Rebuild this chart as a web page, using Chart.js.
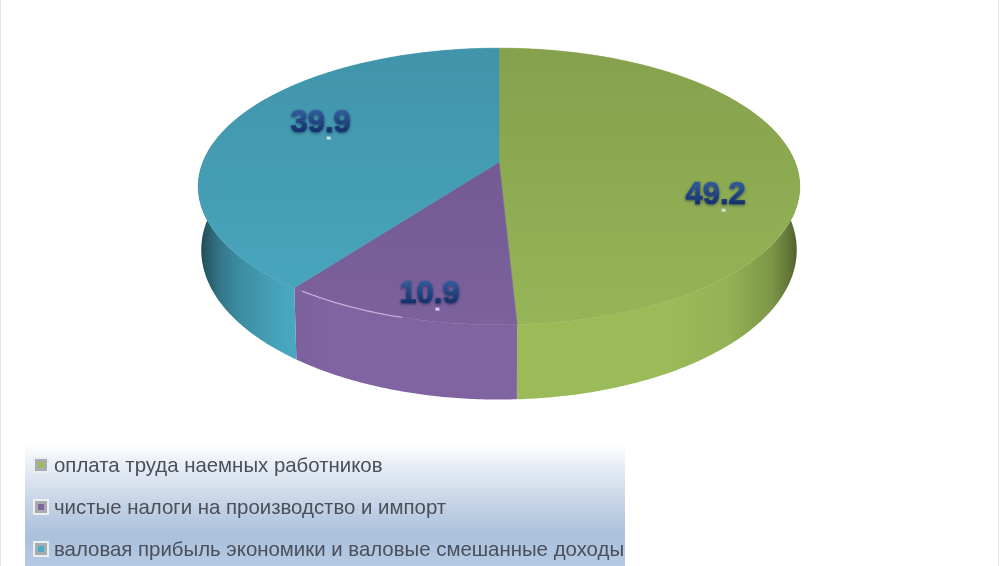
<!DOCTYPE html>
<html lang="ru">
<head>
<meta charset="utf-8">
<style>
html,body{margin:0;padding:0;background:#fff;width:1000px;height:566px;overflow:hidden}
canvas{position:absolute;left:0;top:0;display:block;filter:blur(.45px)}
</style>
<script src="https://cdn.jsdelivr.net/npm/chart.js@4"></script>
</head>
<body>
<canvas id="c" width="1000" height="566"></canvas>
<script>
const categories = [
  "оплата труда наемных работников",
  "чистые налоги на производство и импорт",
  "валовая прибыль экономики и валовые смешанные доходы"
];
const shares = [49.2, 10.9, 39.9];
const shareText = ["49.2", "10.9", "39.9"];
const sliceColors = ["#9bbb59", "#8064a2", "#4bacc6"];

function shade(hex, f) {
  const n = parseInt(hex.slice(1), 16);
  const ch = [n >> 16 & 255, n >> 8 & 255, n & 255].map(v => Math.round(Math.min(255, v * f)));
  return `rgb(${ch[0]},${ch[1]},${ch[2]})`;
}

/* perspective view of the pie: apex, half axes, foreshortening, thickness */
const view = {cx: 499, cy: 162, a: 296, b: 134, k: 0.177, depth: 61.5, inset: .99};
function project(angle, r) {
  const x = r * Math.cos(angle), y = r * Math.sin(angle), w = 1 - view.k * y;
  return {x: view.cx + view.a * x / w, y: view.cy + view.b * y / w, d: view.depth / w};
}
function arcSamples(start, end) {
  const n = Math.max(2, Math.ceil((end - start) / 0.01)), out = [];
  for (let i = 0; i <= n; i++) out.push(project(start + (end - start) * i / n, 1));
  return out;
}

const pie3d = {
  id: "pie3d",
  beforeDatasetDraw(chart, args) {
    const ctx = chart.ctx, arcs = args.meta.data;
    ctx.save();
    /* side wall */
    arcs.forEach((arc, i) => {
      const col = sliceColors[i];
      const g = ctx.createLinearGradient(198, 0, 802, 0);
      [[0, .38], [.012, .5], [.035, .68], [.07, .82], [.14, .96], [.22, 1], [.78, 1], [.88, .95], [.95, .8], [.98, .62], [1, .42]]
        .forEach(([p, f]) => g.addColorStop(p, shade(col, f)));
      const pts = arcSamples(arc.startAngle, arc.endAngle);
      ctx.beginPath();
      pts.forEach((p, j) => j ? ctx.lineTo(p.x, p.y) : ctx.moveTo(p.x, p.y));
      pts.slice().reverse().forEach(p => ctx.lineTo(view.cx + (p.x - view.cx) * view.inset, p.y + p.d));
      ctx.closePath();
      ctx.fillStyle = g;
      ctx.fill();
    });
    /* top face */
    arcs.forEach((arc, i) => {
      const col = sliceColors[i];
      const g = ctx.createLinearGradient(0, 48, 0, 325);
      g.addColorStop(0, shade(col, .86));
      g.addColorStop(1, shade(col, .97));
      const pts = arcSamples(arc.startAngle, arc.endAngle);
      ctx.beginPath();
      ctx.moveTo(view.cx, view.cy);
      pts.forEach(p => ctx.lineTo(p.x, p.y));
      ctx.closePath();
      ctx.fillStyle = g;
      ctx.strokeStyle = g;
      ctx.lineWidth = .6;
      ctx.fill();
      ctx.stroke();
    });
    /* bright glint on the purple rim */
    const purple = arcs[1];
    const gl = arcSamples(purple.endAngle - .36, purple.endAngle - .03);
    ctx.beginPath();
    gl.forEach((p, j) => j ? ctx.lineTo(p.x, p.y) : ctx.moveTo(p.x, p.y));
    ctx.strokeStyle = "rgba(222,200,240,.7)";
    ctx.lineWidth = 1.3;
    ctx.stroke();
    ctx.restore();
    return false;
  },
  afterDatasetsDraw(chart) {
    const ctx = chart.ctx, arcs = chart.getDatasetMeta(0).data;
    const nudges = [[16, 36], [-4, 34], [6, -11]];
    ctx.save();
    ctx.font = "bold 31px 'Liberation Sans'";
    ctx.textAlign = "center";
    ctx.textBaseline = "middle";
    arcs.forEach((arc, i) => {
      const p = project((arc.startAngle + arc.endAngle) / 2, .68);
      const x = p.x + nudges[i][0], y = p.y + nudges[i][1];
      ctx.shadowColor = "rgba(15,30,75,.6)";
      ctx.shadowBlur = 3;
      ctx.shadowOffsetY = 1;
      const g = ctx.createLinearGradient(0, y - 12, 0, y + 12);
      g.addColorStop(0, "#33609f");
      g.addColorStop(1, "#0f2a66");
      ctx.fillStyle = g;
      ctx.strokeStyle = g;
      ctx.lineWidth = .7;
      ctx.fillText(shareText[i], x, y);
      ctx.strokeText(shareText[i], x, y);
      ctx.shadowColor = "transparent";
      ctx.fillStyle = "rgba(225,235,245,.85)";
      ctx.fillRect(x + 6, y + 13, 4, 3);
    });
    ctx.restore();
  }
};

const legendBox = {
  id: "legendBox",
  afterDraw(chart) {
    const ctx = chart.ctx;
    ctx.save();
    const g = ctx.createLinearGradient(0, 443, 0, 566);
    g.addColorStop(0, "#ffffff");
    g.addColorStop(.2, "#e6ecf4");
    g.addColorStop(.5, "#c5d3e6");
    g.addColorStop(.75, "#aac0db");
    g.addColorStop(1, "#b6cae3");
    ctx.fillStyle = g;
    ctx.fillRect(25, 443, 600, 123);
    const rows = [465, 507, 549];
    ctx.textBaseline = "middle";
    ctx.font = "20.4px 'Liberation Sans'";
    chart.data.labels.forEach((label, i) => {
      const y = rows[i];
      ctx.fillStyle = "#eceef0";
      ctx.fillRect(33, y - 8, 16, 16);
      ctx.fillStyle = "#a8abb0";
      ctx.fillRect(35, y - 6, 12, 12);
      ctx.fillStyle = sliceColors[i];
      ctx.fillRect(38, y - 3, 6, 6);
      ctx.fillStyle = "#4a4f59";
      ctx.fillText(label, 54, y + 1);
    });
    /* faint page edges */
    ctx.fillStyle = "#e2e2e2";
    ctx.fillRect(0, 0, 1, 566);
    ctx.fillRect(998, 0, 1, 566);
    ctx.restore();
  }
};

new Chart(document.getElementById("c"), {
  type: "pie",
  data: {
    labels: categories,
    datasets: [{data: shares, backgroundColor: sliceColors, borderWidth: 0}]
  },
  options: {
    responsive: false,
    animation: false,
    plugins: {legend: {display: false}, tooltip: {enabled: false}, title: {display: false}}
  },
  plugins: [pie3d, legendBox]
});
</script>
</body>
</html>
